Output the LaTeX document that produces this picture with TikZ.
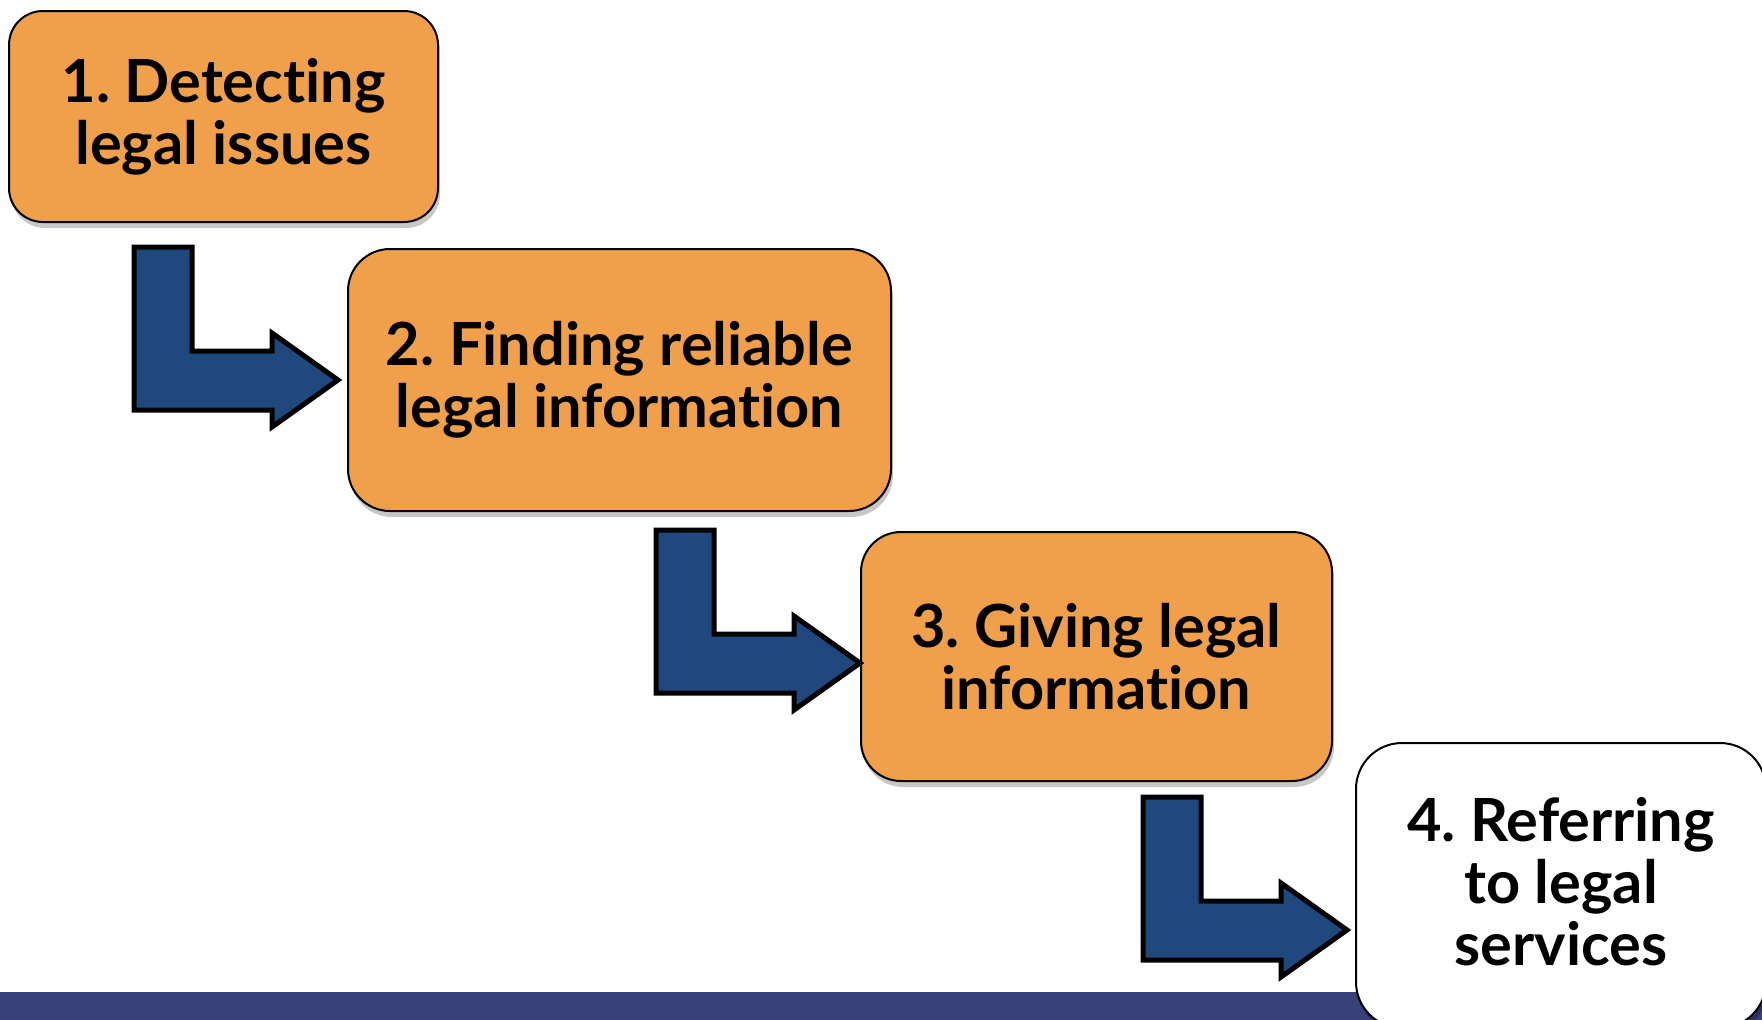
\documentclass[tikz,border=0pt]{standalone}
\usepackage{fontspec}
\setmainfont{Lato}[Ligatures={NoCommon,NoRare,NoDiscretionary,NoContextual}]
\usetikzlibrary{calc,shadows}
\definecolor{boxorange}{RGB}{240,160,74}
\definecolor{arrowblue}{RGB}{31,72,124}
\definecolor{barblue}{RGB}{57,65,123}
\newcommand\nl{\kern0pt }
\tikzset{
  stepbox/.style={draw=black, line width=2pt, rounded corners=#1, inner sep=0pt,
    align=center, font=\bfseries\frenchspacing\fontsize{59.5}{62}\selectfont,
    drop shadow={shadow xshift=2pt, shadow yshift=-6pt, opacity=0.22, fill=black}},
  lshape/.style={draw=black, line width=5pt, fill=arrowblue, line join=miter},
  larrow/.pic={\path[lshape] (-204,-133) -- (-146,-133) -- (-146,-29) -- (-66,-29) -- (-66,-47) -- (0,0) -- (-66,47) -- (-66,30) -- (-204,30) -- cycle;}
}
\begin{document}
\begin{tikzpicture}[x=1pt,y=-1pt]
\useasboundingbox (0,0) rectangle (1762,1020);
\begin{scope}
\clip (0,0) rectangle (1762,1020);
\fill[barblue] (0,992) rectangle (1762,1020);
\node[stepbox=34pt, fill=boxorange, minimum width=429pt, minimum height=211pt] (b1) at (223.5,116.5) {1. Detect\nl ing\\legal issues};
\node[stepbox=42pt, fill=boxorange, minimum width=543pt, minimum height=262pt] (b2) at (619.5,380) {2. Finding reliable\\legal informat\nl ion};
\node[stepbox=40pt, fill=boxorange, minimum width=471pt, minimum height=249pt] (b3) at (1096.5,656.5) {3. Giving legal\\informat\nl ion};
\node[stepbox=46pt, fill=white, minimum width=410pt, minimum height=285pt] (b4) at (1561,885.5) {};
\node[align=center, inner sep=0pt, font=\bfseries\frenchspacing\fontsize{59.5}{62}\selectfont] (t4) at ($(b4.center)+(0,-4)$) {4. Referring\\to legal\\services};
\pic at ($(b2.west)+(-9,0)$) {larrow};
\pic at ($(b3.west)+(0,6.5)$) {larrow};
\pic at ($(b4.west)+(-8,44.5)$) {larrow};
\end{scope}
\end{tikzpicture}
\end{document}
